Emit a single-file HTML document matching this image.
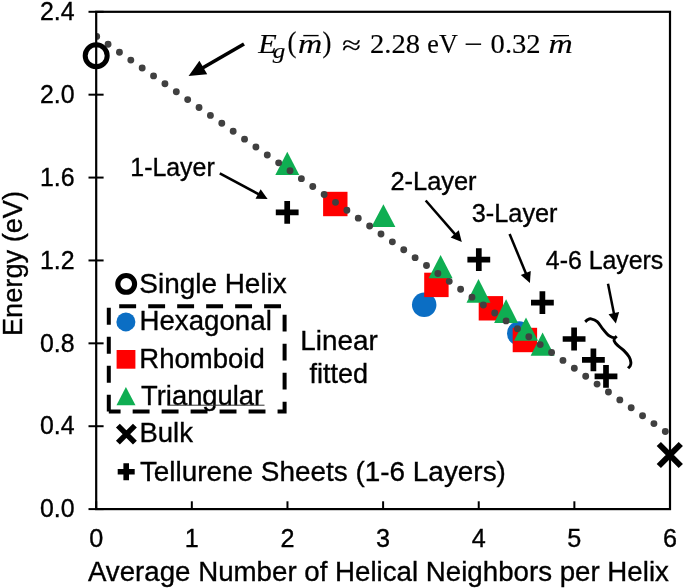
<!DOCTYPE html>
<html><head><meta charset="utf-8"><title>Chart</title>
<style>html,body{margin:0;padding:0;background:#fff}svg{display:block}text{font-family:"Liberation Sans",Arial,sans-serif;fill:#000;stroke:#000;stroke-width:0.35px}.m,.mi{stroke-width:0.15px}.m{font-family:"Liberation Serif","DejaVu Serif",serif}.mi{font-family:"Liberation Serif","DejaVu Serif",serif;font-style:italic}</style></head><body>
<svg width="685" height="588" viewBox="0 0 685 588">
<rect x="0" y="0" width="685" height="588" fill="#fff"/>
<defs><clipPath id="pc"><rect x="96.2" y="11.8" width="593.8" height="497.3"/></clipPath></defs>
<circle cx="424.2" cy="304.8" r="12.25" fill="#0b6ec4"/>
<circle cx="519.25" cy="333.4" r="12.25" fill="#0b6ec4"/>
<rect x="323.10" y="191.80" width="24.4" height="24.4" fill="#ff0000"/>
<rect x="424.20" y="272.70" width="24.4" height="24.4" fill="#ff0000"/>
<rect x="478.70" y="296.10" width="24.4" height="24.4" fill="#ff0000"/>
<rect x="512.70" y="327.80" width="24.4" height="24.4" fill="#ff0000"/>
<polygon points="287.3,151.7 299.3,174.9 275.3,174.9" fill="#0fae52"/>
<polygon points="383.4,204.3 395.4,227 371.4,227" fill="#0fae52"/>
<polygon points="440.6,254.9 452.6,278.2 428.6,278.2" fill="#0fae52"/>
<polygon points="478.5,278.9 490.5,302.7 466.5,302.7" fill="#0fae52"/>
<polygon points="506.1,299.2 518.1,323 494.1,323" fill="#0fae52"/>
<polygon points="526,317.6 538,340.8 514,340.8" fill="#0fae52"/>
<polygon points="542.6,332.6 554.6,355.8 530.6,355.8" fill="#0fae52"/>
<path d="M275.80,209.55H284.35V201.00H290.05V209.55H298.60V215.25H290.05V223.80H284.35V215.25H275.80Z" fill="#000"/>
<path d="M467.40,256.75H475.95V248.20H481.65V256.75H490.20V262.45H481.65V271.00H475.95V262.45H467.40Z" fill="#000"/>
<path d="M531.00,299.85H539.55V291.30H545.25V299.85H553.80V305.55H545.25V314.10H539.55V305.55H531.00Z" fill="#000"/>
<path d="M562.70,336.15H571.25V327.60H576.95V336.15H585.50V341.85H576.95V350.40H571.25V341.85H562.70Z" fill="#000"/>
<path d="M582.00,357.05H590.55V348.50H596.25V357.05H604.80V362.75H596.25V371.30H590.55V362.75H582.00Z" fill="#000"/>
<path d="M594.60,373.45H603.15V364.90H608.85V373.45H617.40V379.15H608.85V387.70H603.15V379.15H594.60Z" fill="#000"/>
<g clip-path="url(#pc)"><line x1="96.7" y1="36.4" x2="665.31" y2="431.51" stroke="#404040" stroke-width="6.9" stroke-linecap="round" stroke-dasharray="0 13.848"/></g>
<rect x="96.2" y="11.8" width="573.8" height="497.3" fill="none" stroke="#000" stroke-width="2.2"/>
<line x1="88.5" x2="103.6" y1="11.80" y2="11.80" stroke="#000" stroke-width="2"/>
<line x1="88.5" x2="103.6" y1="94.68" y2="94.68" stroke="#000" stroke-width="2"/>
<line x1="88.5" x2="103.6" y1="177.57" y2="177.57" stroke="#000" stroke-width="2"/>
<line x1="88.5" x2="103.6" y1="260.45" y2="260.45" stroke="#000" stroke-width="2"/>
<line x1="88.5" x2="103.6" y1="343.33" y2="343.33" stroke="#000" stroke-width="2"/>
<line x1="88.5" x2="103.6" y1="426.22" y2="426.22" stroke="#000" stroke-width="2"/>
<line x1="88.5" x2="103.6" y1="509.10" y2="509.10" stroke="#000" stroke-width="2"/>
<line x1="96.20" x2="96.20" y1="501.3" y2="509.1" stroke="#000" stroke-width="2"/>
<line x1="191.83" x2="191.83" y1="501.3" y2="509.1" stroke="#000" stroke-width="2"/>
<line x1="287.47" x2="287.47" y1="501.3" y2="509.1" stroke="#000" stroke-width="2"/>
<line x1="383.10" x2="383.10" y1="501.3" y2="509.1" stroke="#000" stroke-width="2"/>
<line x1="478.73" x2="478.73" y1="501.3" y2="509.1" stroke="#000" stroke-width="2"/>
<line x1="574.37" x2="574.37" y1="501.3" y2="509.1" stroke="#000" stroke-width="2"/>
<line x1="670.00" x2="670.00" y1="501.3" y2="509.1" stroke="#000" stroke-width="2"/>
<path d="M658.8,444.0L680.8,466.0M680.8,444.0L658.8,466.0" stroke="#000" stroke-width="6" fill="none"/>
<circle cx="96.2" cy="55.8" r="11" fill="none" stroke="#000" stroke-width="5"/>
<text x="74.5" y="20.00" font-size="24.9" text-anchor="end">2.4</text>
<text x="74.5" y="102.88" font-size="24.9" text-anchor="end">2.0</text>
<text x="74.5" y="185.77" font-size="24.9" text-anchor="end">1.6</text>
<text x="74.5" y="268.65" font-size="24.9" text-anchor="end">1.2</text>
<text x="74.5" y="351.53" font-size="24.9" text-anchor="end">0.8</text>
<text x="74.5" y="434.42" font-size="24.9" text-anchor="end">0.4</text>
<text x="74.5" y="517.30" font-size="24.9" text-anchor="end">0.0</text>
<text x="96.20" y="547.1" font-size="25.2" text-anchor="middle">0</text>
<text x="191.83" y="547.1" font-size="25.2" text-anchor="middle">1</text>
<text x="287.47" y="547.1" font-size="25.2" text-anchor="middle">2</text>
<text x="383.10" y="547.1" font-size="25.2" text-anchor="middle">3</text>
<text x="478.73" y="547.1" font-size="25.2" text-anchor="middle">4</text>
<text x="574.37" y="547.1" font-size="25.2" text-anchor="middle">5</text>
<text x="670.00" y="547.1" font-size="25.2" text-anchor="middle">6</text>
<text x="87.9" y="581" font-size="28.4" textLength="581" lengthAdjust="spacingAndGlyphs">Average Number of Helical Neighbors per Helix</text>
<text transform="translate(21.6,336) rotate(-90)" font-size="27.4" textLength="145" lengthAdjust="spacingAndGlyphs">Energy (eV)</text>
<line x1="244" y1="44" x2="202.45" y2="68.00" stroke="#000" stroke-width="3.7"/><polygon points="188.6,76.0 199.42,60.74 207.22,74.25" fill="#000"/>
<line x1="219.8" y1="173.4" x2="258.96" y2="194.37" stroke="#000" stroke-width="2.5"/><polygon points="267.6,199.0 255.53,198.66 260.63,189.14" fill="#000"/>
<line x1="425.7" y1="200.5" x2="455.37" y2="234.61" stroke="#000" stroke-width="2.5"/><polygon points="461.8,242.0 450.64,237.40 458.79,230.31" fill="#000"/>
<line x1="509.6" y1="234.0" x2="526.15" y2="273.95" stroke="#000" stroke-width="2.5"/><polygon points="529.9,283.0 520.78,275.09 530.76,270.96" fill="#000"/>
<line x1="608.0" y1="283.8" x2="614.04" y2="314.08" stroke="#000" stroke-width="2.5"/><polygon points="615.9,323.4 608.55,314.16 619.14,312.05" fill="#000"/>
<text x="130.3" y="176.0" font-size="25.3" textLength="84.4" lengthAdjust="spacingAndGlyphs">1-Layer</text>
<text x="390.4" y="189.9" font-size="25.3" textLength="86.2" lengthAdjust="spacingAndGlyphs">2-Layer</text>
<text x="471.8" y="222.3" font-size="25.3" textLength="85.7" lengthAdjust="spacingAndGlyphs">3-Layer</text>
<text x="545.8" y="268.8" font-size="25.3" textLength="117.5" lengthAdjust="spacingAndGlyphs">4-6 Layers</text>
<text x="300.2" y="349.9" font-size="28" textLength="77.5" lengthAdjust="spacingAndGlyphs">Linear</text>
<text x="309.4" y="383.1" font-size="28" textLength="58.5" lengthAdjust="spacingAndGlyphs">fitted</text>
<text class="mi" x="258.3" y="52.7" font-size="26.8" textLength="18.5" lengthAdjust="spacingAndGlyphs">E</text>
<text class="mi" x="272.8" y="58.0" font-size="20.5" textLength="12.5" lengthAdjust="spacingAndGlyphs">g</text>
<text class="m" transform="translate(287.6,51.6) scale(1,1.08)" font-size="26.8">(</text>
<text class="mi" x="298.0" y="52.7" font-size="26.8" textLength="24.3" lengthAdjust="spacingAndGlyphs">m</text>
<line x1="303.3" x2="318.6" y1="35.6" y2="35.6" stroke="#000" stroke-width="1.4"/>
<text class="m" transform="translate(322.6,51.6) scale(1,1.08)" font-size="26.8">)</text>
<text class="m" x="342.0" y="54.0" font-size="26.8" textLength="19" lengthAdjust="spacingAndGlyphs">≈</text>
<text class="m" x="370.0" y="52.7" font-size="26.8" textLength="50" lengthAdjust="spacingAndGlyphs">2.28</text>
<text class="m" x="427.3" y="52.7" font-size="26.8" textLength="30.5" lengthAdjust="spacingAndGlyphs">eV</text>
<text class="m" x="464.0" y="52.9" font-size="26.8" textLength="18.5" lengthAdjust="spacingAndGlyphs">−</text>
<text class="m" x="490.6" y="52.7" font-size="26.8" textLength="50" lengthAdjust="spacingAndGlyphs">0.32</text>
<text class="mi" x="548.6" y="52.7" font-size="26.8" textLength="24.3" lengthAdjust="spacingAndGlyphs">m</text>
<line x1="553.5" x2="569" y1="35.8" y2="35.6" stroke="#000" stroke-width="1.4"/>
<circle cx="126.2" cy="283.9" r="8.4" fill="none" stroke="#000" stroke-width="5.1"/>
<text x="139.3" y="292.7" font-size="28.4" textLength="147.5" lengthAdjust="spacingAndGlyphs">Single Helix</text>
<circle cx="125.9" cy="321.9" r="9.5" fill="#0b6ec4"/>
<text x="139.5" y="329.9" font-size="28.4" textLength="132.3" lengthAdjust="spacingAndGlyphs">Hexagonal</text>
<rect x="116.6" y="350" width="18.8" height="18.7" fill="#ff0000"/>
<text x="139.3" y="367.7" font-size="28.4" textLength="125.4" lengthAdjust="spacingAndGlyphs">Rhomboid</text>
<polygon points="125.9,386.9 135.5,405.2 116.5,405.2" fill="#0fae52"/>
<text x="141.1" y="404.5" font-size="28.4" textLength="122" lengthAdjust="spacingAndGlyphs">Triangular</text>
<line x1="167.5" x2="264.5" y1="405.2" y2="405.2" stroke="#333" stroke-width="1.0"/>
<path d="M117.9,425.6L134.9,442.6M134.9,425.6L117.9,442.6" stroke="#000" stroke-width="5.5" fill="none"/>
<text x="139.4" y="442.4" font-size="28.4" textLength="53.5" lengthAdjust="spacingAndGlyphs">Bulk</text>
<path d="M117.70,468.90H123.40V463.20H129.00V468.90H134.70V474.50H129.00V480.20H123.40V474.50H117.70Z" fill="#000"/>
<text x="139.9" y="480.6" font-size="28.4" textLength="366" lengthAdjust="spacingAndGlyphs">Tellurene Sheets (1-6 Layers)</text>
<path d="M108.8,411.5V306.2H284.6V411.5H108.8" fill="none" stroke="#000" stroke-width="4" stroke-dasharray="16.9 12.08" stroke-dashoffset="0.2"/>
<path d="M585.20,321.80C585.63,321.43 586.82,320.08 587.80,319.60C588.78,319.12 589.53,318.57 591.10,318.90C592.67,319.23 595.27,319.95 597.20,321.60C599.13,323.25 600.87,326.53 602.70,328.80C604.53,331.07 606.55,333.77 608.20,335.20C609.85,336.63 611.43,337.02 612.60,337.40C613.77,337.78 614.52,337.68 615.20,337.50C615.88,337.32 616.45,336.50 616.70,336.30C616.35,336.65 615.02,337.62 614.60,338.40C614.18,339.18 613.78,339.92 614.20,341.00C614.62,342.08 615.52,343.33 617.10,344.90C618.68,346.47 621.68,348.38 623.70,350.40C625.72,352.42 628.00,354.98 629.20,357.00C630.40,359.02 630.73,361.03 630.90,362.50C631.07,363.97 630.67,364.83 630.20,365.80C629.73,366.77 628.45,367.88 628.10,368.30" fill="none" stroke="#000" stroke-width="2.9" stroke-linecap="butt" stroke-linejoin="bevel"/>
</svg></body></html>
